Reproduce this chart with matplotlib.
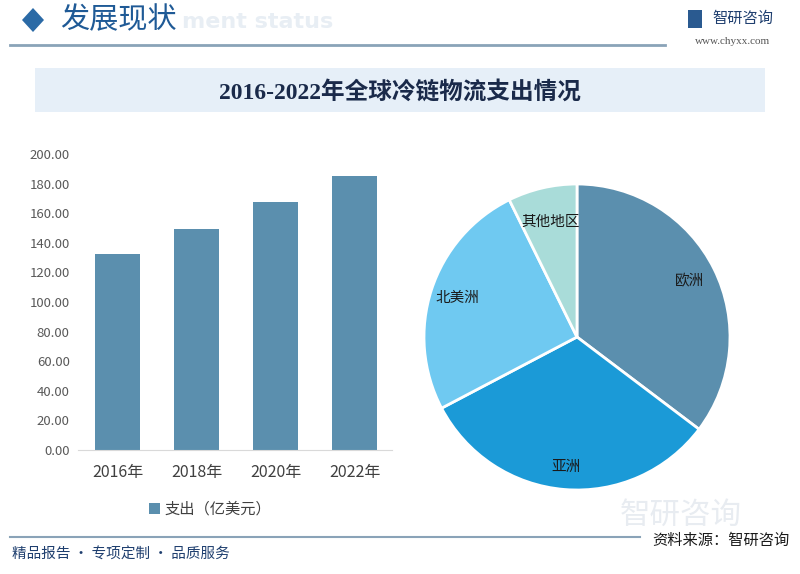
# coding=utf-8
import numpy as np
import matplotlib
matplotlib.use('Agg')
import matplotlib.pyplot as plt
from matplotlib.patches import Rectangle, Polygon

plt.rcParams['font.family'] = ['Noto Sans CJK SC', 'DejaVu Sans']

# 数据
years = ['2016年', '2018年', '2020年', '2022年']
spend = [132.4, 149.4, 167.6, 185.3]
bar_label = '支出（亿美元）'

regions = ['欧洲', '亚洲', '北美洲', '其他地区']
shares = [35.3, 32.0, 25.4, 7.3]
pie_colors = ['#5b8fae', '#1b9ad7', '#6fc9f1', '#a9dcd9']

yticks = np.arange(0, 201, 20)

W, H = 800, 574
fig = plt.figure(figsize=(8, 5.74), dpi=100)
fig.patch.set_facecolor('white')

def fx(px):
    return px / W

def fy(py):
    return 1 - py / H

# 顶部标题栏
fig.patches.append(Polygon([[fx(22), fy(20)], [fx(33), fy(8)], [fx(44), fy(20)], [fx(33), fy(32)]],
                           closed=True, transform=fig.transFigure, facecolor='#2b6aa6', edgecolor='none'))
fig.text(fx(182), fy(22), 'ment status', fontsize=16, color='#e8eef4', weight='bold',
         ha='left', va='center', family=['DejaVu Sans'], zorder=0)
fig.text(fx(60), fy(20), '发展现状', fontsize=21, color='#1f5a96', ha='left', va='center')
fig.add_artist(plt.Line2D([fx(10), fx(665)], [fy(45), fy(45)], transform=fig.transFigure,
                          color='#8aa3b8', lw=2))
fig.text(fx(712), fy(18), '智研咨询', fontsize=11, color='#1f3f6f', ha='left', va='center')
fig.patches.append(Rectangle((fx(688), fy(28)), fx(14), 18 / H, transform=fig.transFigure,
                             facecolor='#2a5a90', edgecolor='none'))
fig.text(fx(733), fy(42), 'www.chyxx.com', fontsize=8, color='#555555', ha='center', va='center',
         family=['Liberation Serif'])

# 图表标题
fig.patches.append(Rectangle((fx(35), fy(112)), fx(730), 44 / H, transform=fig.transFigure,
                             facecolor='#e6eff8', edgecolor='none'))
fig.text(0.5, fy(92), '2016-2022年全球冷链物流支出情况', fontsize=17, weight='bold',
         color='#1a2a4a', ha='center', va='center', family=['Liberation Serif', 'Noto Sans CJK SC'])

# 水印
fig.text(fx(620), fy(515), '智研咨询', fontsize=22, color='#e8ecf1', ha='left', va='center')

# 柱状图
ax = fig.add_axes([fx(78), fy(450), fx(392 - 78), (450 - 154) / H])
x = np.arange(len(years))
ax.bar(x, spend, width=0.57, color='#5b8fae', label=bar_label)
ax.set_xlim(-0.5, 3.47)
ax.set_ylim(0, 200)
ax.set_yticks(yticks)
ax.set_yticklabels(['%.2f' % v for v in yticks], fontsize=9.5, color='#595959')
ax.set_xticks(x)
ax.set_xticklabels(years, fontsize=11.5, color='#404040')
ax.tick_params(length=0, pad=6)
ax.tick_params(axis='x', pad=10)
for s in ['top', 'right', 'left']:
    ax.spines[s].set_visible(False)
ax.spines['bottom'].set_color('#d9d9d9')
ax.patch.set_alpha(0)
ax.legend(loc='center', bbox_to_anchor=(fx(210 - 78) / fx(314), -0.2), frameon=False,
          fontsize=11, handlelength=0.7, handleheight=0.7, handletextpad=0.3,
          labelcolor='#404040')

# 饼图
r = 153
pax = fig.add_axes([fx(577 - r), fy(337 + r), fx(2 * r), 2 * r / H])
wedges, _ = pax.pie(shares, colors=pie_colors, startangle=90, counterclock=False,
                    wedgeprops=dict(edgecolor='white', linewidth=2))
pax.set_xlim(-1, 1)
pax.set_ylim(-1, 1)
dists = [0.82, 0.85, 0.82, 0.77]
for w, lab, d in zip(wedges, regions, dists):
    ang = np.deg2rad((w.theta1 + w.theta2) / 2)
    pax.text(d * np.cos(ang), d * np.sin(ang), lab, fontsize=10.5, color='#1a1a1a',
             weight='medium', ha='center', va='center')

# 底部
fig.add_artist(plt.Line2D([fx(10), fx(640)], [fy(537), fy(537)], transform=fig.transFigure,
                          color='#8aa3b8', lw=1.5))
fig.text(fx(12), fy(555), '精品报告 · 专项定制 · 品质服务', fontsize=10.5, color='#1f3f6f',
         ha='left', va='center')
fig.text(fx(790), fy(540), '资料来源：智研咨询', fontsize=11, color='#1a1a1a',
         ha='right', va='center')

plt.savefig('out.png', dpi=100)
